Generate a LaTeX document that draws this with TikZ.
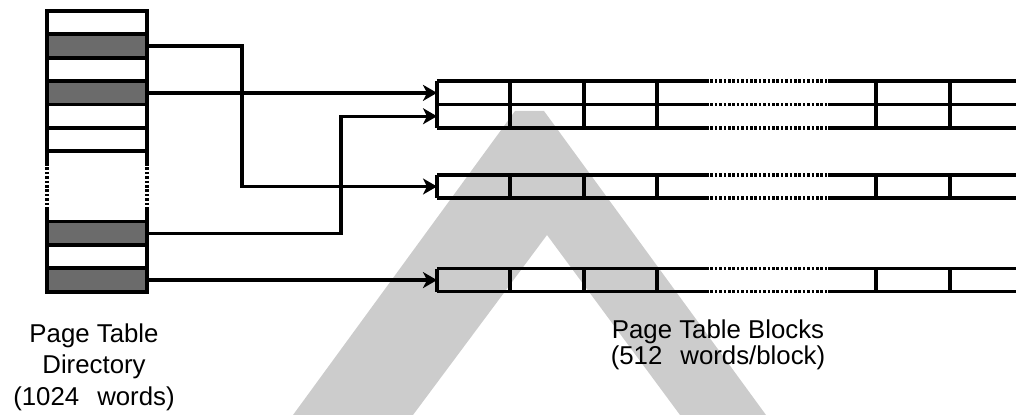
\documentclass[tikz,border=0pt]{standalone}
\usepackage{fontspec}
\setmainfont{Liberation Sans}
\usepackage{tikz}
\usetikzlibrary{arrows.meta,calc}
\definecolor{stipple}{gray}{0.42}
\definecolor{wmark}{gray}{0.80}

\begin{document}
\begin{tikzpicture}[x=0.5pt, y=-0.5pt, line join=miter,
    cell/.style={draw, line width=1.9pt, minimum width=50pt, minimum height=11.7pt,
                 inner sep=0pt, outer sep=0pt},
    blk/.style={line width=1.7pt},
    gap/.style={line width=1.7pt, dash pattern=on 1.3pt off 0.9pt},
    link/.style={line width=1.7pt, -{Stealth[length=7pt, width=8pt, inset=2pt]}},
    lbl/.style={align=center}]
  \useasboundingbox (0,0) rectangle (1016,415);
  % watermark
  \fill[wmark] (293,415) -- (515,111) -- (544,111) -- (766,415) -- (680,415)
        -- (547,235) -- (413,415) -- cycle;
  % directory
  \foreach \i/\k/\f in {1/0/white, 2/1/stipple, 3/2/white, 4/3/stipple, 5/4/white,
                        6/5/white, 7/9/stipple, 8/10/white, 9/11/stipple}
    \node[cell, fill=\f] (d\i) at (97,{11+23.4*(\k+0.5)}) {};
  \foreach \x in {47,147}{
    \draw[line width=1.9pt] (\x,151.4) -- (\x,163);
    \draw[gap] (\x,163) -- (\x,210);
    \draw[line width=1.9pt] (\x,210) -- (\x,221.6);
  }
  % page table blocks
  \foreach \y in {81,104.5,128,175,198,268.6,291.6}{
    \draw[blk] (437,\y) -- (706,\y);
    \draw[gap] (706,\y) -- (828,\y);
    \draw[blk] (828,\y) -- (1016,\y);
  }
  \foreach \t/\b in {81/128,175/198,268.6/291.6}
    \foreach \x in {437,510,584,657,876,950}
      \draw[blk] (\x,\t) -- (\x,\b);
  % pointers
  \coordinate (bx) at (437,0);
  \coordinate (j1) at (242,0);
  \coordinate (j2) at (341,0);
  \coordinate (t1) at (437,92.75);
  \coordinate (t2) at (437,116.25);
  \coordinate (t3) at (437,186.5);
  \draw[link] (d2.east) -| (j1 |- t3) -- (t3);
  \draw[link] (d4.east) -- (d4 -| t1);
  \draw[link] (d7.east) -| (j2 |- t2) -- (t2);
  \draw[link] (d9.east) -- (d9 -| bx);
  % labels
  \node[lbl, font=\fontsize{12.9}{15.8}\selectfont] (dirlbl) at (94,367)
        {Page Table\\Directory\\(1024\hspace{9pt}words)};
  \node[lbl, font=\fontsize{12.9}{13}\selectfont] (blklbl) at (718,345)
        {Page Table Blocks\\(512\hspace{9pt}words/block)};
\end{tikzpicture}
\end{document}
